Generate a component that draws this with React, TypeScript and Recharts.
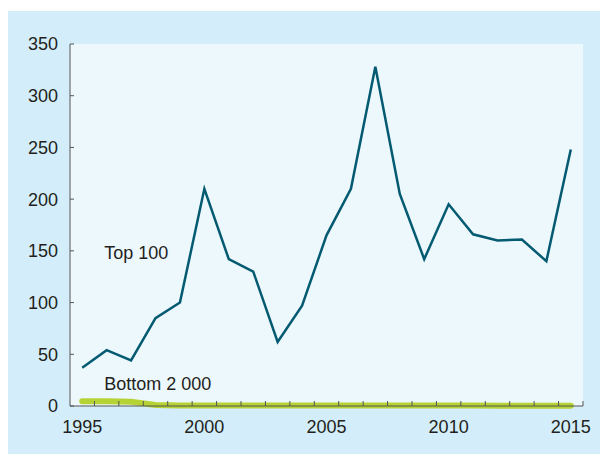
import { CartesianGrid, Line, LineChart, ReferenceDot, XAxis, YAxis } from "recharts";

const years = [
  1995, 1996, 1997, 1998, 1999, 2000, 2001, 2002, 2003, 2004, 2005, 2006, 2007,
  2008, 2009, 2010, 2011, 2012, 2013, 2014, 2015,
];
const top100 = [
  37, 54, 44, 85, 100, 210, 142, 130, 62, 97, 165, 210, 328, 205, 142, 195,
  166, 160, 161, 140, 248,
];
const bottom2000 = [
  4.5, 4.5, 4, 1, 0.5, 0.5, 0.5, 0.5, 0.5, 0.5, 0.5, 0.5, 0.5, 0.5, 0.5, 0.5,
  0.5, 0.3, 0.3, 0.3, 0.3,
];
const labelYears = [1995, 2000, 2005, 2010, 2015];
const yTicks = [0, 50, 100, 150, 200, 250, 300, 350];

const data = years.map((year, i) => ({
  year,
  top: top100[i],
  bottom: bottom2000[i],
}));

// tick marks sit between the years, labels only every five years
const xTicks = [...years.map((y) => y + 0.5), ...labelYears].sort((a, b) => a - b);

const TEXT = "#231f20";
const AXIS = "#555555";
const FONT = 18;
const MARGIN = 14;

const XTick = (props: any) => {
  const { x, y, payload } = props;
  const v = payload.value;
  if (labelYears.includes(v)) {
    return (
      <text x={x} y={y} dy="0.71em" textAnchor="middle" fill={TEXT} fontSize={FONT}>
        {v}
      </text>
    );
  }
  const base = y - MARGIN;
  return <line x1={x} x2={x} y1={base} y2={base - 5} stroke={AXIS} strokeWidth={1} />;
};

export default function App() {
  return (
    <div
      style={{
        position: "absolute",
        left: 8,
        top: 11,
        width: 592,
        height: 443,
        background: "#d3eefa",
        fontFamily: "'Liberation Sans', Arial, sans-serif",
      }}
    >
      <LineChart
        width={592}
        height={443}
        data={data}
        margin={{ top: 33, right: 17, bottom: 18, left: 0 }}
      >
        <CartesianGrid horizontal={false} vertical={false} fill="#edf8fd" />
        <XAxis
          dataKey="year"
          type="number"
          domain={[1994.5, 2015.5]}
          ticks={xTicks}
          interval={0}
          tick={<XTick />}
          tickLine={false}
          tickSize={0}
          tickMargin={MARGIN}
          height={30}
          stroke={AXIS}
        />
        <YAxis
          domain={[0, 350]}
          ticks={yTicks}
          interval={0}
          width={62}
          tickSize={-4}
          tickMargin={16}
          stroke={AXIS}
          tick={{ fill: TEXT, fontSize: FONT }}
        />
        <Line
          dataKey="bottom"
          stroke="#b5d334"
          strokeWidth={6}
          strokeLinecap="round"
          dot={false}
          isAnimationActive={false}
        />
        <Line
          dataKey="top"
          stroke="#045a70"
          strokeWidth={2.5}
          dot={false}
          isAnimationActive={false}
        />
        <ReferenceDot
          x={1995.9}
          y={148}
          r={0}
          fill="none"
          stroke="none"
          label={{ value: "Top 100", position: "right", offset: 0, fill: TEXT, fontSize: FONT }}
        />
        <ReferenceDot
          x={1995.9}
          y={22}
          r={0}
          fill="none"
          stroke="none"
          label={{ value: "Bottom 2 000", position: "right", offset: 0, fill: TEXT, fontSize: FONT }}
        />
      </LineChart>
    </div>
  );
}
